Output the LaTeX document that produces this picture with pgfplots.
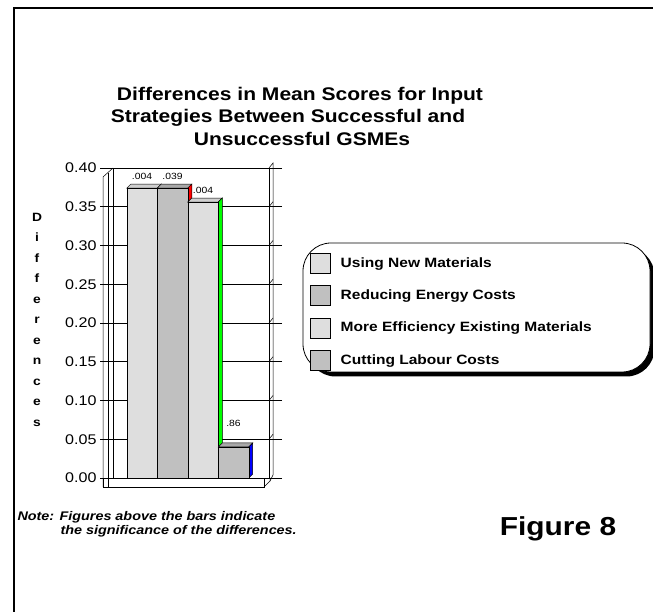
\documentclass[border=0pt]{standalone}
\usepackage{pgfplots}
\pgfplotsset{compat=1.18}
\usepackage{fontspec}
\setmainfont{Liberation Sans}[FakeStretch=1.15]
\usetikzlibrary{shadows}
\definecolor{lightbar}{HTML}{DEDEDE}
\definecolor{darkbar}{HTML}{C0C0C0}
\definecolor{lighttop}{HTML}{CFCFCF}
\definecolor{darktop}{HTML}{A8A8A8}
\begin{document}
\begin{tikzpicture}[x=1pt,y=1pt]
\useasboundingbox (0,0) rectangle (653,612);
\draw[line width=2.5pt] (14,0) -- (14,604) -- (653,604);
% titles
\node[font=\fontsize{18.3}{22}\bfseries\selectfont, anchor=base] at (300,511) {Differences in Mean Scores for Input};
\node[font=\fontsize{18.3}{22}\bfseries\selectfont, anchor=base] at (288,489) {Strategies Between Successful and};
\node[font=\fontsize{18.3}{22}\bfseries\selectfont, anchor=base] at (302,466) {Unsuccessful GSMEs};
\node[font=\fontsize{12}{20.5}\bfseries\selectfont, align=center] at (37,292.5) {D\\i\\f\\f\\e\\r\\e\\n\\c\\e\\s};
% legend box (decoration)
\draw[line width=0.8pt, fill=white, rounded corners=28pt,
  drop shadow={shadow xshift=4.5pt, shadow yshift=-4.5pt, fill=black, opacity=1}]
  (303,240) rectangle (650,369);
% 3D decoration
\draw[line width=0.5pt] (103,125) rectangle (264,134);
\draw[line width=0.5pt] (264,125) -- (270,131) -- (270,134);
\draw[line width=0.5pt] (103,125) -- (103,435) -- (113,444);
\draw[line width=0.5pt] (108,125) -- (108,439);
\draw[line width=0.5pt] (269,444) -- (273,449) -- (273,137) -- (270,131);
\begin{axis}[at={(113pt,134pt)}, anchor=south west, scale only axis,
  width=156pt, height=310pt,
  xmin=0.049, xmax=5.164, ymin=0, ymax=0.4,
  ytick={0,0.05,0.1,0.15,0.2,0.25,0.3,0.35,0.4},
  xtick=\empty,
  ymajorgrids, grid style={black, line width=0.5pt},
  axis line style={black, line width=0.5pt},
  tick align=outside, major tick length=13pt,
  tick style={black, line width=0.5pt},
  yticklabel style={/pgf/number format/.cd, fixed, fixed zerofill, precision=2},
  /pgf/number format/assume math mode=true,
  tick label style={font=\fontsize{14}{16}\selectfont},
  legend style={at={(1.263,0.7258)}, anchor=north west, draw=none, fill=none,
    inner sep=0pt, row sep=11.7pt, column sep=10pt,
    nodes={inner sep=0pt},
    font=\fontsize{13.5}{15}\bfseries\selectfont, cells={anchor=west}},
  legend image code/.code={\draw[#1, line width=0.5pt] (0pt,-10pt) rectangle (20pt,10pt);},
  nodes near coords style={font=\fontsize{9}{10}\selectfont, yshift=5pt, text=black},
  clip=false,
]
\pgfplotsinvokeforeach{0.05,0.1,0.15,0.2,0.25,0.3,0.35}{
  \draw[line width=0.5pt] (axis cs:5.164,#1) -- ++(4pt,5pt);
}
% bar 1
\addplot[fill=lighttop, draw=black, line width=0.5pt, forget plot] coordinates {(0.5,0.374) (0.631,0.3792) (1.631,0.3792) (1.5,0.374)} -- cycle;
\addplot[fill=lightbar, draw=black, line width=0.5pt, forget plot] coordinates {(1.5,0) (1.631,0.0052) (1.631,0.3792) (1.5,0.374)} -- cycle;
\addplot[ybar, bar width=1, bar shift=0pt, fill=lightbar, draw=black, line width=0.5pt,
  nodes near coords, point meta=explicit symbolic] coordinates {(1,0.374) [.004]};
\addlegendentry{Using New Materials}
% bar 2
\addplot[fill=darktop, draw=black, line width=0.5pt, forget plot] coordinates {(1.5,0.374) (1.631,0.3792) (2.631,0.3792) (2.5,0.374)} -- cycle;
\addplot[fill=red, draw=black, line width=0.5pt, forget plot] coordinates {(2.5,0) (2.631,0.0052) (2.631,0.3792) (2.5,0.374)} -- cycle;
\addplot[ybar, bar width=1, bar shift=0pt, fill=darkbar, draw=black, line width=0.5pt,
  nodes near coords, point meta=explicit symbolic] coordinates {(2,0.374) [.039]};
\addlegendentry{Reducing Energy Costs}
% bar 3
\addplot[fill=lighttop, draw=black, line width=0.5pt, forget plot] coordinates {(2.5,0.356) (2.631,0.3612) (3.631,0.3612) (3.5,0.356)} -- cycle;
\addplot[fill=green, draw=black, line width=0.5pt, forget plot] coordinates {(3.5,0) (3.631,0.0052) (3.631,0.3612) (3.5,0.356)} -- cycle;
\addplot[ybar, bar width=1, bar shift=0pt, fill=lightbar, draw=black, line width=0.5pt,
  nodes near coords, point meta=explicit symbolic] coordinates {(3,0.356) [.004]};
\addlegendentry{More Efficiency Existing Materials}
% bar 4
\addplot[fill=darktop, draw=black, line width=0.5pt, forget plot] coordinates {(3.5,0.04) (3.631,0.0452) (4.631,0.0452) (4.5,0.04)} -- cycle;
\addplot[fill=blue, draw=black, line width=0.5pt, forget plot] coordinates {(4.5,0) (4.631,0.0052) (4.631,0.0452) (4.5,0.04)} -- cycle;
\addplot[ybar, bar width=1, bar shift=0pt, fill=darkbar, draw=black, line width=0.5pt,
  nodes near coords, point meta=explicit symbolic, nodes near coords style={yshift=12pt}] coordinates {(4,0.04) [.86]};
\addlegendentry{Cutting Labour Costs}
\end{axis}
\node[anchor=base west, font=\fontsize{12.5}{14}\bfseries\itshape\selectfont] at (14,91) {Note: Figures above the bars indicate};
\node[anchor=base west, font=\fontsize{12.5}{14}\bfseries\itshape\selectfont] at (57,77) {the significance of the differences.};
\node[anchor=base, font=\fontsize{26}{30}\bfseries\selectfont] at (558,76) {Figure 8};
\end{tikzpicture}
\end{document}
